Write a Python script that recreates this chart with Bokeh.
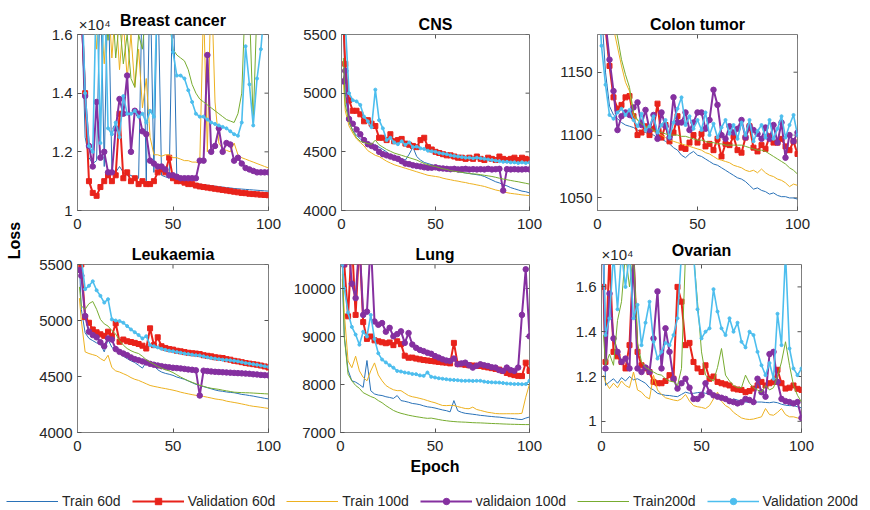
from bokeh.plotting import figure
from bokeh.layouts import row, column
from bokeh.models import (Range1d, FixedTicker, Label, Legend, LegendItem, LinearAxis,
                          CustomJSTickFormatter)
from bokeh.embed import file_html
from bokeh.resources import INLINE

# ---------------- data ----------------
EPOCHS = [1] + list(range(2, 101, 2))
SERIES = ["Train 60d", "Validation 60d", "Train 100d", "validaion 100d", "Train200d", "Validation 200d"]
COLORS = ["#2a72b8", "#e8231b", "#edb120", "#8530a0", "#77ac30", "#4dbeee"]
X_TICKS = [0, 50, 100]

# Breast cancer
breast_train60 = [19000, 17000, 12500, 11800, 11600, 11700,
                  18000, 11500, 18000, 11400, 11300, 11500, 11300, 11200, 11200, 11100,
                  11100, 18000, 11000, 18000, 11300, 18000, 11200, 11150, 11100, 18000,
                  11050, 11000, 10980, 10960, 10940, 10920, 10900, 10880, 10860, 10850,
                  10830, 10810, 10800, 10780, 10770, 10750, 10740, 10730, 10720, 10710,
                  10700, 10690, 10680, 10670, 10660]
breast_val60 = [19000, 17000, 14000, 11000, 10600, 10500,
                10800, 11000, 11200, 11000, 11200, 13300, 11100, 11300, 11000, 11100,
                10900, 11000, 10900, 10900, 11000, 11300, 11400, 11300, 11800, 11100,
                11000, 11000, 10950, 10900, 10900, 10850, 10820, 10800, 10780, 10760,
                10740, 10720, 10700, 10680, 10660, 10640, 10620, 10600, 10590, 10570,
                10560, 10550, 10540, 10530, 10520]
breast_train100 = [19000, 18000, 17000, 16500, 18000, 15500,
                   17000, 15000, 17500, 15200, 17000, 14800, 16500, 14500, 16000, 14200,
                   15500, 13500, 14500, 12500, 11900, 11900, 11850, 11900, 11900, 11800,
                   11800, 11750, 11700, 11700, 11650, 11650, 11600, 17000, 12000, 18000,
                   13700, 12300, 12100, 12050, 12000, 12300, 11900, 11800, 11750, 11700,
                   11650, 11600, 11550, 11500, 11450]
breast_val100 = [19000, 17000, 13900, 12200, 11500, 13700,
                 11800, 12000, 11300, 11300, 12800, 13800, 13300, 14600, 12000, 13400,
                 13300, 12700, 12600, 11700, 11600, 11500, 11500, 11400, 11200, 11200,
                 11150, 11100, 11100, 11100, 11100, 11100, 11700, 11700, 15300, 12000,
                 12200, 12800, 12000, 12300, 12250, 11700, 11800, 11600, 11450, 11400,
                 11350, 11300, 11300, 11300, 11300]
breast_train200 = [19000, 19000, 18500, 18000, 18500, 17500,
                   18000, 17000, 15800, 17500, 15200, 16500, 15000, 16000, 14500, 14200,
                   16000, 15500, 17000, 16500, 17500, 18000, 17500, 17000, 16500, 15500,
                   15300, 15200, 15100, 14800, 14300, 14000, 13800, 13700, 13600, 13500,
                   13400, 13300, 13200, 13100, 13050, 13000, 13300, 14000, 17500, 17000,
                   13000, 17000, 18000, 18000, 18000]
breast_val200 = [19000, 18000, 14000, 12200, 12000, 18000,
                 12300, 18000, 12800, 12600, 13000, 12500, 13900, 13300, 13300, 13400,
                 13200, 13300, 13000, 13400, 13200, 18000, 18000, 18000, 17000, 15400,
                 14600, 14600, 14500, 14100, 13700, 13300, 13200, 13200, 13100, 13000,
                 12950, 12900, 12850, 12800, 12700, 12600, 12550, 13000, 15600, 14300,
                 12900, 14500, 15500, 17000, 18000]

# CNS
cns_train60 = [5600, 5000, 4750, 4680, 4640, 4610,
               4590, 4565, 4550, 4560, 4540, 4520, 4500, 4470, 4460, 4450,
               4440, 4430, 4480, 4540, 4460, 4430, 4410, 4400, 4390, 4380,
               4375, 4370, 4360, 4350, 4340, 4330, 4325, 4320, 4315, 4310,
               4305, 4300, 4290, 4275, 4260, 4245, 4235, 4220, 4210, 4195,
               4185, 4175, 4165, 4160, 4150]
cns_val60 = [5600, 5250, 4940, 4850, 4850, 4820,
             4760, 4770, 4740, 4720, 4620, 4620, 4600, 4650, 4590, 4600,
             4610, 4570, 4560, 4550, 4540, 4600, 4620, 4540, 4520, 4500,
             4490, 4480, 4470, 4470, 4460, 4450, 4450, 4440, 4450, 4440,
             4460, 4440, 4430, 4450, 4440, 4430, 4460, 4440, 4430, 4440,
             4450, 4430, 4450, 4440, 4430]
cns_train100 = [5100, 4850, 4720, 4660, 4610, 4580,
                4550, 4510, 4490, 4470, 4460, 4440, 4420, 4405, 4390, 4380,
                4370, 4360, 4350, 4340, 4330, 4320, 4310, 4300, 4295, 4290,
                4285, 4275, 4268, 4262, 4255, 4250, 4243, 4238, 4230, 4225,
                4218, 4212, 4205, 4195, 4185, 4175, 4168, 4160, 4152, 4146,
                4142, 4138, 4133, 4130, 4127]
cns_val100 = [5100, 5190, 4780, 4740, 4690, 4650,
              4600, 4565, 4550, 4535, 4500, 4480, 4470, 4460, 4450, 4440,
              4420, 4400, 4395, 4385, 4380, 4375, 4368, 4365, 4365, 4368,
              4360, 4358, 4355, 4352, 4355, 4350, 4352, 4355, 4350, 4352,
              4350, 4352, 4350, 4355, 4350, 4352, 4355, 4170, 4352, 4350,
              4352, 4350, 4350, 4352, 4350]
cns_train200 = [5300, 4900, 4760, 4680, 4620, 4590,
                4580, 4570, 4565, 4600, 4560, 4540, 4520, 4505, 4490, 4480,
                4470, 4460, 4450, 4440, 4430, 4415, 4400, 4390, 4380, 4375,
                4365, 4355, 4350, 4340, 4335, 4330, 4325, 4320, 4315, 4312,
                4310, 4305, 4300, 4295, 4290, 4283, 4275, 4268, 4262, 4256,
                4250, 4245, 4238, 4232, 4225]
cns_val200 = [5600, 5600, 5000, 4940, 4930, 4900,
              4800, 4760, 4710, 5030, 4770, 4700, 4600, 4620, 4580, 4565,
              4590, 4560, 4580, 4540, 4545, 4530, 4525, 4510, 4505, 4500,
              4490, 4485, 4480, 4470, 4465, 4460, 4455, 4450, 4450, 4445,
              4450, 4445, 4440, 4435, 4430, 4425, 4420, 4415, 4415, 4410,
              4410, 4405, 4410, 4405, 4410]

# Colon tumor
colon_train60 = [1220, 1200, 1150, 1123, 1116, 1113,
                 1110, 1108, 1107, 1106, 1104, 1103, 1102, 1101, 1100, 1098,
                 1097, 1095, 1093, 1090, 1088, 1084, 1082, 1085, 1087, 1084,
                 1083, 1081, 1079, 1077, 1076, 1074, 1072, 1070, 1068, 1066,
                 1065, 1063, 1060, 1057, 1058, 1056, 1055, 1053, 1054, 1052,
                 1051, 1051, 1050, 1050, 1049]
colon_val60 = [1230, 1210, 1185, 1155, 1130, 1121,
               1124, 1130, 1131, 1115, 1100, 1102, 1107, 1100, 1105, 1125,
               1098, 1108, 1095, 1102, 1115, 1090, 1089, 1094, 1100, 1094,
               1101, 1091, 1093, 1088, 1097, 1083, 1093, 1092, 1099, 1088,
               1086, 1098, 1107, 1090, 1087, 1092, 1089, 1099, 1094, 1094,
               1097, 1091, 1088, 1095, 1085]
colon_train100 = [1250, 1240, 1220, 1200, 1185, 1170,
                  1155, 1142, 1135, 1115, 1112, 1108, 1106, 1105, 1103, 1101,
                  1100, 1098, 1096, 1095, 1094, 1093, 1092, 1091, 1090, 1089,
                  1088, 1086, 1085, 1083, 1081, 1080, 1079, 1078, 1076, 1075,
                  1074, 1072, 1071, 1072, 1070, 1073, 1070, 1068, 1067, 1065,
                  1064, 1062, 1059, 1061, 1060]
colon_val100 = [1230, 1220, 1190, 1160, 1135, 1104,
                1115, 1118, 1116, 1122, 1126, 1108, 1120, 1104, 1116, 1097,
                1118, 1107, 1098, 1130, 1110, 1110, 1118, 1104, 1110, 1118,
                1118, 1105, 1112, 1136, 1124, 1100, 1097, 1107, 1102, 1105,
                1112, 1098, 1107, 1104, 1101, 1097, 1106, 1097, 1108, 1094,
                1110, 1082, 1100, 1095, 1102]
colon_train200 = [1260, 1250, 1230, 1215, 1195, 1178,
                  1160, 1148, 1138, 1118, 1112, 1109, 1107, 1106, 1104, 1103,
                  1102, 1101, 1100, 1100, 1100, 1099, 1099, 1098, 1097, 1096,
                  1096, 1095, 1094, 1094, 1093, 1093, 1092, 1092, 1092, 1092,
                  1092, 1091, 1090, 1089, 1088, 1088, 1087, 1085, 1083, 1081,
                  1079, 1077, 1074, 1072, 1069]
colon_val200 = [1200, 1171, 1140, 1116, 1113, 1118,
                1121, 1116, 1120, 1112, 1107, 1117, 1104, 1107, 1115, 1102,
                1108, 1112, 1098, 1110, 1121, 1130, 1108, 1115, 1105, 1112,
                1104, 1118, 1100, 1109, 1098, 1106, 1112, 1101, 1108, 1097,
                1110, 1100, 1112, 1095, 1103, 1108, 1098, 1112, 1097, 1105,
                1115, 1098, 1108, 1116, 1100]

# Leukaemia
leuk_train60 = [5500, 5100, 4890, 4840, 4820, 4800,
                4790, 4720, 4830, 4760, 4730, 4705, 4680, 4660, 4640, 4625,
                4600, 4575, 4630, 4610, 4595, 4560, 4540, 4528, 4520, 4510,
                4495, 4485, 4475, 4460, 4445, 4430, 4420, 4410, 4400, 4390,
                4380, 4372, 4368, 4362, 4358, 4355, 4348, 4340, 4336, 4330,
                4325, 4318, 4312, 4305, 4300]
leuk_val60 = [5600, 5500, 5030, 4980, 4920, 4895,
              4877, 4863, 4900, 4860, 4975, 4810, 4830, 4815, 4808, 4800,
              4790, 4775, 4750, 4930, 4780, 4850, 4770, 4755, 4745, 4740,
              4730, 4725, 4718, 4712, 4708, 4705, 4700, 4690, 4685, 4680,
              4672, 4668, 4665, 4655, 4650, 4640, 4635, 4628, 4620, 4615,
              4610, 4605, 4598, 4590, 4580]
leuk_train100 = [5200, 5000, 4720, 4705, 4695, 4685,
                 4660, 4640, 4690, 4580, 4550, 4540, 4525, 4510, 4490, 4475,
                 4465, 4450, 4435, 4420, 4412, 4405, 4398, 4392, 4385, 4378,
                 4370, 4360, 4352, 4345, 4338, 4332, 4327, 4322, 4315, 4308,
                 4300, 4295, 4290, 4280, 4274, 4268, 4262, 4255, 4248, 4240,
                 4234, 4230, 4225, 4220, 4215]
leuk_val100 = [5450, 5400, 5040, 4900, 4870, 4850,
               4806, 4770, 4840, 4830, 4745, 4720, 4705, 4690, 4670, 4655,
               4645, 4635, 4625, 4613, 4605, 4598, 4592, 4586, 4582, 4578,
               4575, 4572, 4568, 4563, 4560, 4555, 4330, 4552, 4548, 4545,
               4542, 4540, 4538, 4536, 4534, 4532, 4530, 4528, 4526, 4524,
               4520, 4518, 4514, 4512, 4510]
leuk_train200 = [5300, 5130, 5100, 5150, 5170, 5100,
                 5010, 4970, 4950, 4910, 4880, 4820, 4780, 4750, 4730, 4715,
                 4705, 4680, 4650, 4628, 4610, 4590, 4575, 4560, 4550, 4535,
                 4515, 4495, 4478, 4462, 4448, 4435, 4422, 4412, 4402, 4395,
                 4390, 4385, 4378, 4372, 4366, 4360, 4358, 4356, 4355, 4354,
                 4352, 4350, 4348, 4346, 4344]
leuk_val200 = [5600, 5550, 5280, 5310, 5350, 5270,
               5220, 5160, 5190, 5010, 5000, 4995, 4980, 4950, 4920, 4895,
               4870, 4840, 4860, 4780, 4770, 4760, 4747, 4738, 4730, 4725,
               4718, 4712, 4705, 4700, 4695, 4690, 4688, 4680, 4672, 4665,
               4660, 4655, 4650, 4648, 4645, 4640, 4635, 4628, 4620, 4615,
               4610, 4605, 4598, 4592, 4585]

# Lung
lung_train60 = [10200, 9000, 8300, 8077, 8050, 8000,
                7940, 8500, 7870, 7803, 7780, 7770, 7745, 7730, 7710, 7770,
                7665, 7650, 7630, 7605, 7595, 7580, 7555, 7535, 7525, 7510,
                7490, 7470, 7455, 7430, 7665, 7455, 7420, 7400, 7390, 7380,
                7370, 7357, 7350, 7340, 7333, 7325, 7320, 7310, 7300, 7295,
                7288, 7275, 7270, 7300, 7323]
lung_val60 = [11000, 10500, 9420, 11000, 9450, 11000,
              9300, 8950, 9000, 8920, 8900, 8880, 8860, 8876, 8820, 8900,
              8840, 8600, 8558, 8560, 8540, 8524, 8510, 8500, 8490, 8480,
              8470, 8460, 8455, 8440, 8867, 8430, 8421, 8410, 8400, 8395,
              8390, 8386, 8370, 8355, 8340, 8325, 8310, 8280, 8240, 8215,
              8195, 8180, 8175, 8455, 8283]
lung_train100 = [10300, 9500, 8490, 8350, 8590, 8283,
                 8150, 8077, 8283, 8450, 8200, 8077, 7980, 7930, 7890, 7872,
                 7872, 7820, 7770, 7745, 7730, 7710, 7690, 7665, 7640, 7620,
                 7590, 7563, 7560, 7565, 7563, 7540, 7520, 7500, 7495, 7529,
                 7480, 7460, 7440, 7420, 7410, 7395, 7391, 7390, 7391, 7391,
                 7391, 7391, 7400, 7735, 8009]
lung_val100 = [11000, 10500, 11000, 10100, 9800, 11000,
               9450, 9518, 11000, 9313, 9244, 9280, 9100, 9180, 9004, 9050,
               9107, 8867, 9072, 8833, 8764, 8720, 8695, 8661, 8640, 8592,
               8560, 8524, 8500, 8490, 8540, 8421, 8440, 8455, 8400, 8352,
               8390, 8421, 8400, 8386, 8360, 8352, 8300, 8283, 8352, 8300,
               8283, 8352, 9450, 10400, 9004]
lung_train200 = [10500, 9000, 8215, 8077, 7980, 7920,
                 7830, 7790, 7750, 7720, 7665, 7620, 7560, 7510, 7460, 7426,
                 7400, 7380, 7360, 7345, 7330, 7318, 7305, 7295, 7300, 7285,
                 7270, 7255, 7245, 7235, 7228, 7222, 7218, 7215, 7210, 7205,
                 7202, 7200, 7196, 7192, 7188, 7185, 7182, 7178, 7175, 7172,
                 7170, 7168, 7166, 7165, 7165]
lung_val200 = [10500, 10000, 9500, 9200, 9040, 8830,
               9100, 9000, 9450, 8950, 8650, 8520, 8460, 8400, 8350, 8283,
               8270, 8250, 8240, 8220, 8215, 8190, 8180, 8250, 8160, 8146,
               8130, 8120, 8110, 8100, 8095, 8090, 8080, 8077, 8080, 8075,
               8077, 8077, 8060, 8050, 8045, 8043, 8040, 8030, 8020, 8015,
               8009, 8010, 8005, 8009, 8077]

# Ovarian
ovarian_train60 = [16000, 11600, 11760, 11900, 11700, 11950,
                   11800, 12000, 11850, 11900, 11800, 11700, 11500, 11400, 11250, 11200,
                   11160, 11150, 11120, 11100, 11200, 11300, 11250, 11250, 11280, 11300,
                   11250, 11200, 11100, 11080, 11050, 10950, 10900, 11000, 10950, 10900,
                   10860, 10850, 10830, 10860, 10860, 10840, 10830, 10860, 10830, 10760,
                   10720, 10700, 10700, 10650, 10600]
ovarian_val60 = [16000, 12650, 17500, 13100, 12900, 12650,
                 12360, 13400, 17500, 13100, 12500, 12360, 12200, 11760, 11700, 11700,
                 11800, 12060, 11900, 16000, 15340, 13400, 13500, 12650, 12360, 12200,
                 12500, 11900, 12000, 11760, 11700, 11650, 11600, 11460, 11420, 11400,
                 11300, 11350, 11460, 11600, 11760, 11600, 11700, 11760, 12300, 11700,
                 11460, 11500, 11600, 11450, 11400]
ovarian_train100 = [12060, 11760, 11460, 11700, 11500, 11800,
                    11600, 11500, 12200, 11400, 11300, 11100, 11000, 12060, 11400, 11200,
                    11050, 11000, 10950, 10920, 11000, 11200, 10900, 10700, 10650, 10620,
                    10570, 10700, 11000, 11300, 10900, 10700, 10600, 10400, 10270, 10150,
                    10100, 10080, 10100, 10150, 10200, 10570, 10300, 10270, 10400, 10570,
                    10300, 10200, 10200, 10150, 10100]
ovarian_val100 = [17500, 12360, 15700, 13700, 13100, 12650,
                  12800, 12360, 17500, 12360, 12200, 12400, 12200, 13700, 15800, 12360,
                  14150, 13100, 11900, 11460, 11700, 11900, 11500, 11000, 11000, 11160,
                  11700, 11300, 11160, 11100, 11050, 11000, 10900, 10860, 10800, 10850,
                  11000, 10950, 10860, 11900, 11300, 11100, 13000, 13100, 11760, 11000,
                  10900, 10860, 10800, 10860, 10150]
ovarian_train200 = [13850, 12500, 13000, 12500, 14500, 15340,
                    17500, 16000, 17500, 13500, 12650, 12400, 12300, 12200, 12100, 12060,
                    11900, 11800, 11760, 11600, 12360, 17500, 17500, 17500, 15340, 13100,
                    12060, 11900, 11800, 12400, 13250, 12060, 11800, 11600, 11500, 11500,
                    12060, 11700, 11500, 11400, 11300, 11600, 11400, 11500, 12000, 12650,
                    13550, 12500, 11600, 11160, 10860]
ovarian_val200 = [17500, 13850, 14600, 17500, 15000, 17500,
                  16000, 17500, 14600, 15200, 13400, 14400, 15340, 13550, 12800, 13100,
                  13500, 13400, 13850, 14600, 17500, 17500, 17500, 17500, 15000, 13700,
                  14000, 14150, 15900, 14900, 14150, 13850, 14600, 14000, 14400, 13550,
                  13300, 14000, 13850, 13100, 12500, 12060, 12600, 11900, 14800, 13400,
                  17500, 13250, 12360, 12060, 12360]

FONT = "Liberation Sans"
STYLE = [
    dict(lw=1.0, marker=None, ms=0),
    dict(lw=2.0, marker="square", ms=5),
    dict(lw=1.0, marker=None, ms=0),
    dict(lw=2.0, marker="circle", ms=5.5),
    dict(lw=1.0, marker=None, ms=0),
    dict(lw=1.6, marker="circle", ms=3),
]
TICK_LEN = 4
AXIS_GREY = "#808080"
TICK_COLOR = "#555555"
SCI_TEXT = "×10⁴"


def style_axis(ax, standoff):
    ax.major_tick_in = TICK_LEN
    ax.major_tick_out = 0
    ax.minor_tick_line_color = None
    ax.axis_line_color = AXIS_GREY
    ax.major_tick_line_color = TICK_COLOR
    ax.major_label_text_font = FONT
    ax.major_label_text_font_size = "15px"
    ax.major_label_text_color = "#262626"
    ax.major_label_standoff = standoff


def make_panel(title, data, y_lo, y_hi, y_ticks, sci_at, width, height, bl, br, bt, bb, xlabel=None):
    frame_w = width - bl - br
    frame_h = height - bt - bb
    p = figure(width=width, height=height, title=title,
               x_range=Range1d(0, 100), y_range=Range1d(y_lo, y_hi),
               toolbar_location=None, output_backend="svg",
               min_border_left=bl, min_border_right=br,
               min_border_top=bt, min_border_bottom=bb)
    p.title.align = "center"
    p.title.text_font = FONT
    p.title.text_font_size = "16px"
    p.title.text_font_style = "bold"
    p.title.text_color = "#000000"
    p.title.standoff = 4
    p.grid.visible = False
    p.outline_line_color = AXIS_GREY
    p.background_fill_color = "white"
    p.border_fill_color = "white"
    p.xaxis.ticker = FixedTicker(ticks=X_TICKS)
    p.yaxis.ticker = FixedTicker(ticks=y_ticks)
    if sci_at is not None:
        p.yaxis.formatter = CustomJSTickFormatter(code="return (tick / 10000).toString();")
    style_axis(p.xaxis[0], 8)
    style_axis(p.yaxis[0], 5)
    if xlabel:
        p.xaxis.axis_label = xlabel
        p.xaxis.axis_label_text_font = FONT
        p.xaxis.axis_label_text_font_size = "16px"
        p.xaxis.axis_label_text_font_style = "bold"
        p.xaxis.axis_label_text_color = "#000000"
        p.xaxis.axis_label_standoff = 4

    # mirrored inner ticks on the top and right edges of the box
    dy = TICK_LEN * (y_hi - y_lo) / frame_h
    dx = TICK_LEN * 100.0 / frame_w
    p.segment(x0=X_TICKS, y0=[y_hi] * len(X_TICKS), x1=X_TICKS, y1=[y_hi - dy] * len(X_TICKS),
              line_color=TICK_COLOR, line_width=1)
    p.segment(x0=[100] * len(y_ticks), y0=y_ticks, x1=[100 - dx] * len(y_ticks), y1=y_ticks,
              line_color=TICK_COLOR, line_width=1)

    for i, vals in enumerate(data):
        st = STYLE[i]
        p.line(EPOCHS, vals, line_color=COLORS[i], line_width=st["lw"])
        if st["marker"]:
            p.scatter(EPOCHS, vals, marker=st["marker"], size=st["ms"],
                      fill_color=COLORS[i], line_color=COLORS[i])

    if sci_at is not None:
        # exponent marker of the y axis, written above the top-left corner of the box
        sci = LinearAxis(ticker=FixedTicker(ticks=[sci_at]),
                         major_label_overrides={sci_at: SCI_TEXT},
                         major_tick_line_color=None, minor_tick_line_color=None,
                         axis_line_color=None, major_tick_in=0, major_tick_out=0,
                         major_label_standoff=2, major_label_text_font=FONT,
                         major_label_text_font_size="15px", major_label_text_color="#262626")
        p.add_layout(sci, "above")
        p.title.standoff = -32
    return p


f1 = make_panel("Breast cancer",
                [breast_train60, breast_val60, breast_train100, breast_val100, breast_train200, breast_val200],
                10000, 16000, [10000, 12000, 14000, 16000], 9, 272, 240, 49, 32, 34, 30)
f2 = make_panel("CNS",
                [cns_train60, cns_val60, cns_train100, cns_val100, cns_train200, cns_val200],
                4000, 5500, [4000, 4500, 5000, 5500], None, 253, 240, 39, 24, 34, 30)
f3 = make_panel("Colon tumor",
                [colon_train60, colon_val60, colon_train100, colon_val100, colon_train200, colon_val200],
                1040, 1180, [1050, 1100, 1150], None, 317, 240, 44, 73, 34, 30)
f4 = make_panel("Leukaemia",
                [leuk_train60, leuk_val60, leuk_train100, leuk_val100, leuk_train200, leuk_val200],
                4000, 5500, [4000, 4500, 5000, 5500], None, 262, 244, 49, 22, 24, 52)
f5 = make_panel("Lung",
                [lung_train60, lung_val60, lung_train100, lung_val100, lung_train200, lung_val200],
                7000, 10500, [7000, 8000, 9000, 10000], None, 263, 244, 49, 24, 24, 52, xlabel="Epoch")
f6 = make_panel("Ovarian",
                [ovarian_train60, ovarian_val60, ovarian_train100, ovarian_val100, ovarian_train200, ovarian_val200],
                9500, 17000, [10000, 12000, 14000, 16000], 8, 317, 244, 48, 69, 24, 52)

# "Loss" label column
lossf = figure(width=28, height=484, x_range=Range1d(0, 1), y_range=Range1d(0, 484),
               toolbar_location=None, output_backend="svg", min_border=0,
               x_axis_location=None, y_axis_location=None, outline_line_color=None)
lossf.grid.visible = False
lossf.add_layout(Label(x=0.5, y=244, text="Loss", angle=90, angle_units="deg",
                       text_align="center", text_baseline="middle", text_font=FONT,
                       text_font_size="16px", text_font_style="bold", text_color="#000000"))

# legend strip: renderers carry the breast-cancer series, kept outside the visible x range
lf = figure(width=870, height=26, x_range=Range1d(-3, -2), y_range=Range1d(0, 1),
            toolbar_location=None, output_backend="svg", min_border=0,
            x_axis_location=None, y_axis_location=None, outline_line_color=None)
lf.grid.visible = False
legend_data = [breast_train60, breast_val60, breast_train100, breast_val100, breast_train200, breast_val200]
items = []
for i, name in enumerate(SERIES):
    st = STYLE[i]
    rs = [lf.line(EPOCHS, legend_data[i], line_color=COLORS[i], line_width=st["lw"])]
    if st["marker"]:
        rs.append(lf.scatter(EPOCHS, legend_data[i], marker=st["marker"], size=st["ms"],
                             fill_color=COLORS[i], line_color=COLORS[i]))
    items.append(LegendItem(label=name, renderers=rs))
legend = Legend(items=items, orientation="horizontal", location=(6, 1),
                glyph_width=52, glyph_height=16, label_height=16, label_standoff=4, spacing=11,
                padding=0, margin=0, border_line_color=None, background_fill_alpha=0,
                label_text_font=FONT, label_text_font_size="14px", label_text_color="#262626")
lf.add_layout(legend)

layout = column(row(lossf, column(row(f1, f2, f3), row(f4, f5, f6))), lf)

open("out.html", "w").write(file_html(layout, INLINE))
